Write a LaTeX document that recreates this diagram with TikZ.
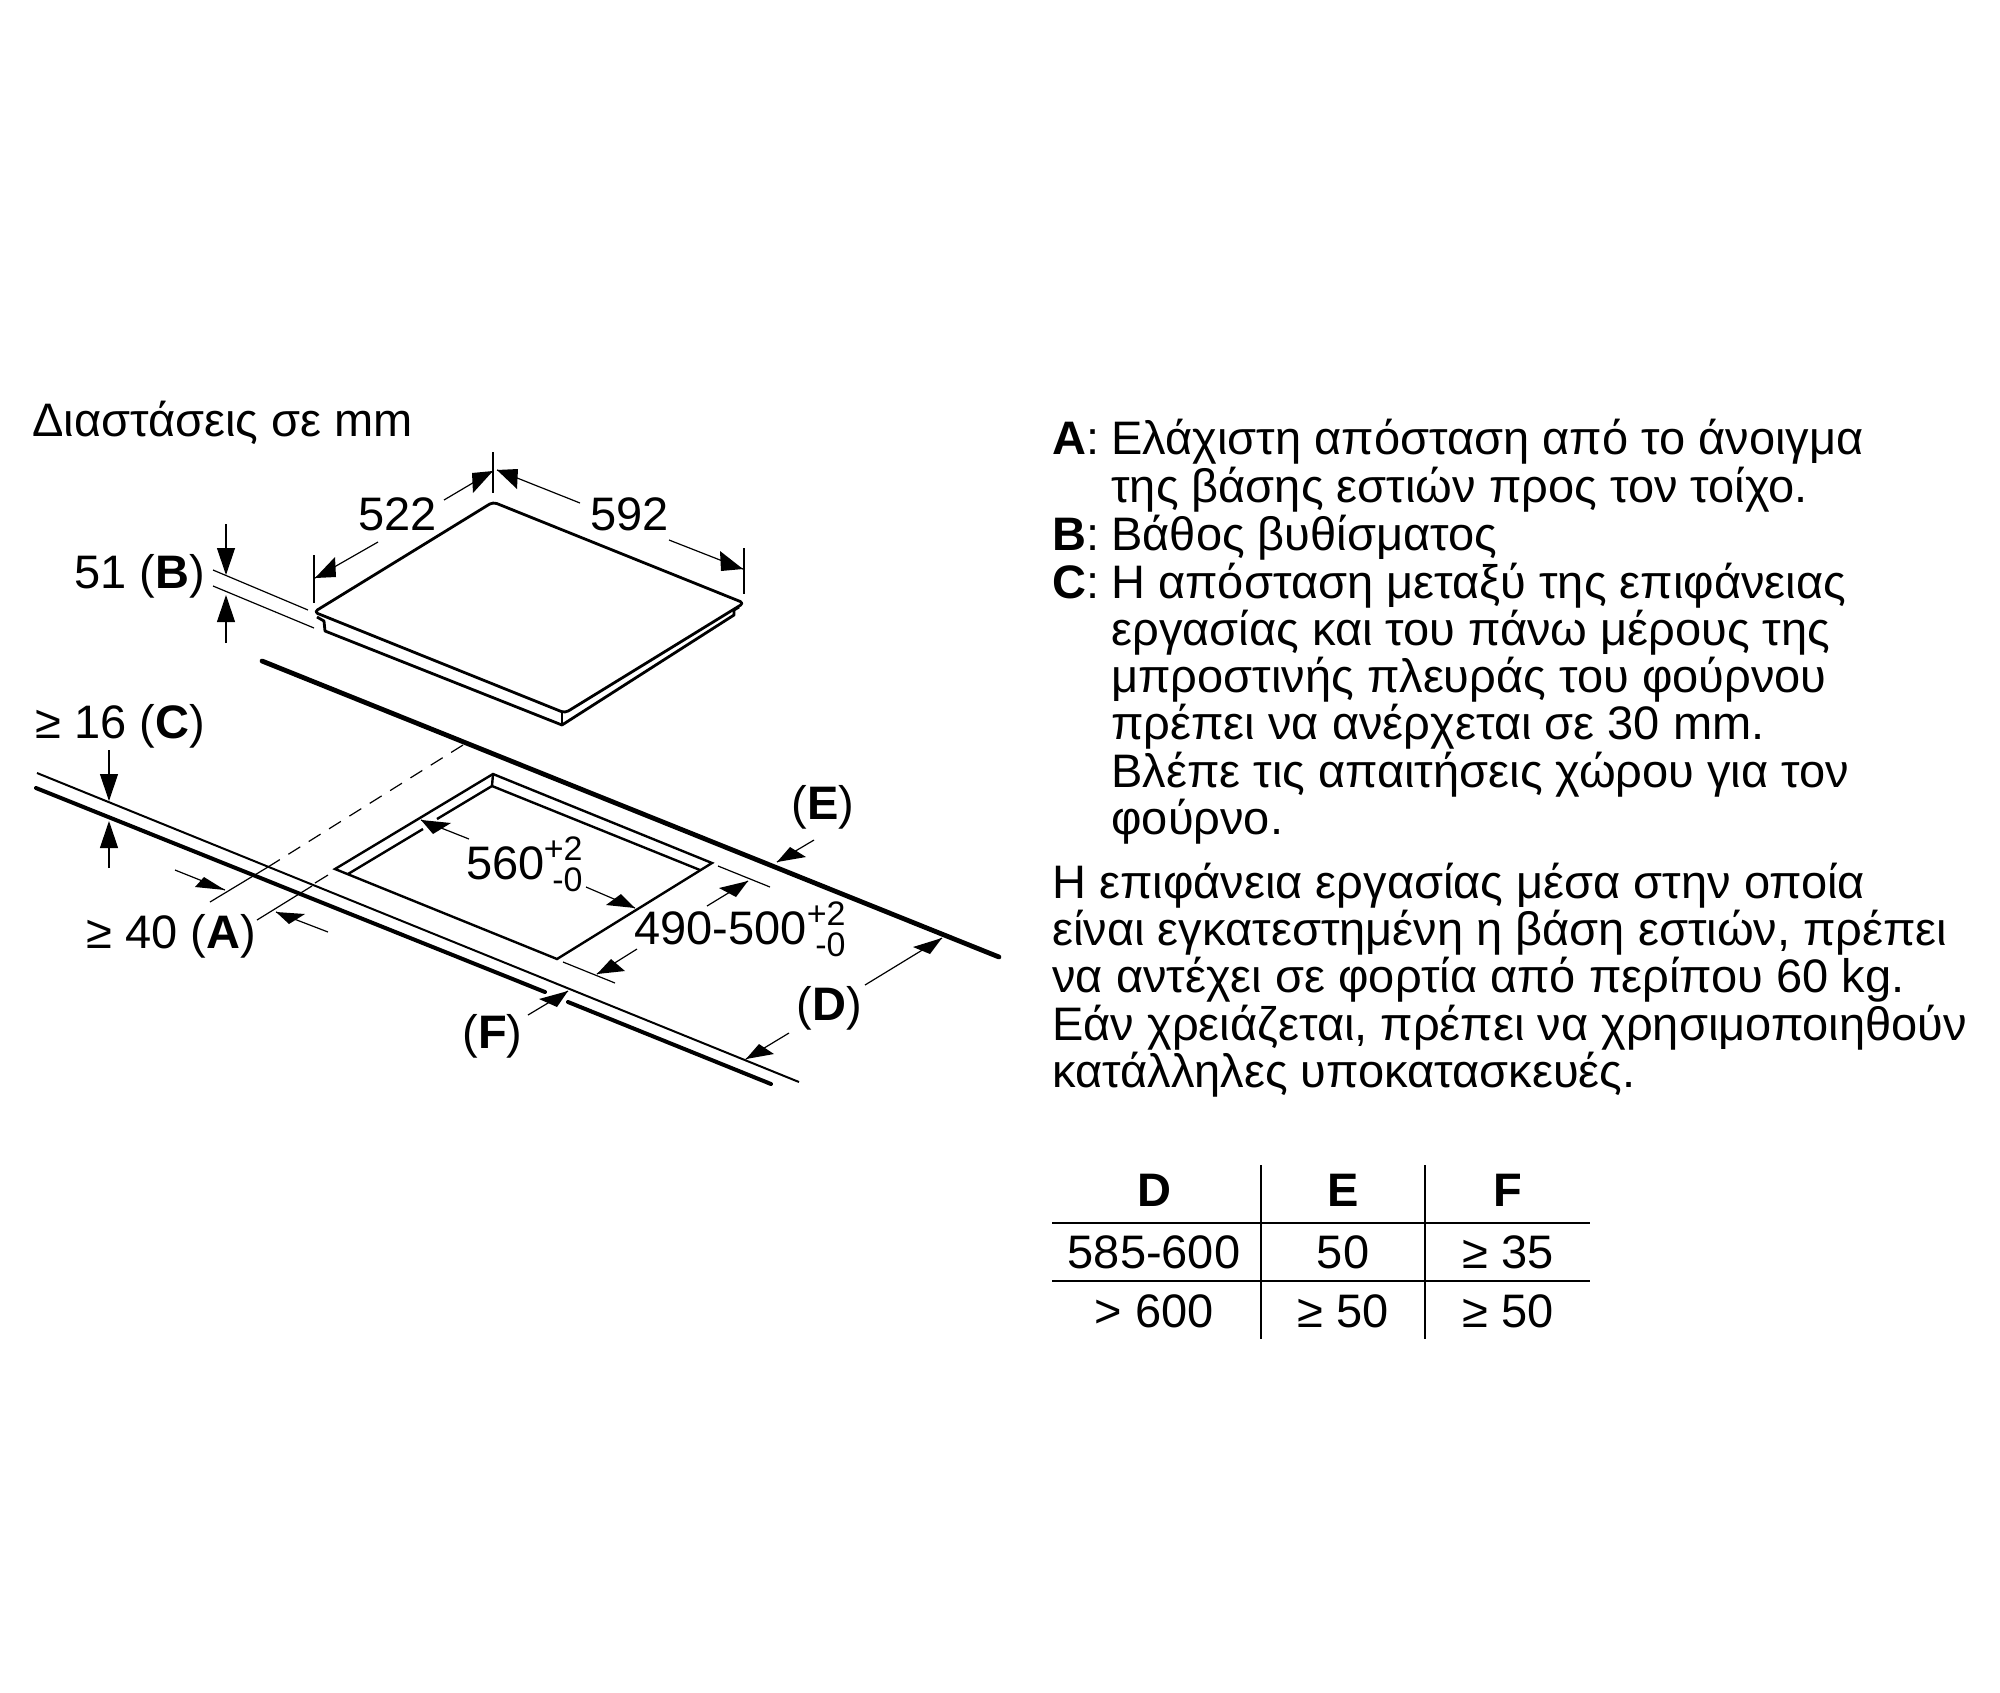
\documentclass[tikz,border=0pt]{standalone}
\usepackage{fontspec}
\setmainfont{Liberation Sans}
\usetikzlibrary{arrows.meta,positioning}

\tikzset{
    dimline/.style={black,line width=.6pt},
    dimarrow/.style={dimline,-{Triangle[length=13.5pt,width=9pt]}},
    hobline/.style={black,line width=1.4pt,line join=round},
    cutline/.style={black,line width=1.2pt,line join=miter},
    edgeline/.style={black,line width=2.4pt,line cap=round},
    label/.style={inner sep=0pt,anchor=base west,font=\fontsize{23.5}{24}\selectfont},
    tolerance/.style={inner sep=0pt,anchor=base east,font=\fontsize{17}{18}\selectfont},
    cell/.style={inner sep=0pt,anchor=base,font=\fontsize{23.5}{24}\selectfont},
}
% the heads on the slanted arrows are sheared with the drawing
\newcommand{\dimhead}[3]{\fill[black] #1 -- #2 -- #3 -- cycle;}

\begin{document}
\begin{tikzpicture}[yscale=-1,x=.5pt,y=.5pt]
    \useasboundingbox (0,0) rectangle (2000,1692);

    \node[label] (title) at (32,436) {Διαστάσεις σε mm};

    % hob
    \draw[hobline,rounded corners=2pt] (314,612) -- (493,502) -- (744,603) -- (565,713) -- cycle;
    \draw[hobline] (317,617) -- (324,621) -- (325,631) -- (562,725) -- (734,615) -- (734,610) -- (739,607);
    \draw[hobline,line width=1pt] (562,713) -- (562,725);

    % worktop
    \draw[edgeline] (262,661) -- (999,957);
    \draw[edgeline,line width=2pt] (36,788) -- (545,992);
    \draw[edgeline,line width=2pt] (568,1002) -- (771,1084);
    \draw[black,line width=1pt] (37,773) -- (799,1082);

    % cut-out
    \draw[cutline] (493,774) -- (712,863) -- (557,959) -- (335,869) -- cycle;
    \draw[cutline] (493,774) -- (492,786) -- (700,870);
    \draw[cutline] (492,786) -- (437,819);
    \draw[cutline] (423,829) -- (348,874);

    % distance to wall
    \draw[dimline,dash pattern=on 7pt off 5pt] (463,745) -- (268,867);
    \draw[dimline] (268,867) -- (210,902);
    \draw[dimline] (328,875) -- (315,883);
    \draw[dimline] (312,886) -- (257,920);

    % dimensions of the hob
    \draw[dimline] (493,452) -- (493,493);
    \draw[dimline] (314,555) -- (314,603);
    \draw[dimline] (744,548) -- (744,594);
    \draw[dimline] (444,500) -- (493,471);
    \dimhead{(493,471)}{(472,473)}{(473,493)}
    \draw[dimline] (378,542) -- (315,578);
    \dimhead{(315,578)}{(335,557)}{(336,577)}
    \draw[dimline] (580,503) -- (497,470);
    \dimhead{(497,470)}{(518,469)}{(517,489)}
    \draw[dimline] (669,540) -- (743,569);
    \dimhead{(743,569)}{(720,551)}{(721,571)}
    \node[label] (w522) at (358,530) {522};
    \node[label] (w592) at (590,530) {592};

    % B
    \draw[dimline] (213,570) -- (308,610);
    \draw[dimline] (213,586) -- (314,628);
    \draw[dimarrow] (226,524) -- (226,575);
    \draw[dimarrow] (226,643) -- (226,595);
    \node[label] (depth) at (74,588) {51 (\textbf{B})};

    % C
    \draw[dimarrow] (109,750) -- (109,801);
    \draw[dimarrow] (109,868) -- (109,821);
    \node[label] (gapC) at (35,738) {≥ 16 (\textbf{C})};

    % A
    \draw[dimline] (175,870) -- (225,890);
    \dimhead{(225,890)}{(204,877)}{(195,887)}
    \draw[dimline] (328,932) -- (276,912);
    \dimhead{(276,912)}{(305,914)}{(289,924)}
    \node[label] (gapA) at (86,948) {≥ 40 (\textbf{A})};

    % cut-out sizes
    \draw[dimline] (469,839) -- (421,820);
    \dimhead{(421,820)}{(451,823)}{(433,834)}
    \draw[dimline] (586,887) -- (635,908);
    \dimhead{(635,908)}{(621,894)}{(606,905)}
    \node[label] (w560) at (466,879) {560};
    \node[tolerance] (w560p) at (583,860) {+2};
    \node[tolerance] (w560m) at (583,891) {-0};

    \draw[dimline] (718,866) -- (770,887);
    \draw[dimline] (563,962) -- (615,983);
    \draw[dimline] (707,906) -- (748,881);
    \dimhead{(748,881)}{(719,888)}{(736,897)}
    \draw[dimline] (637,949) -- (597,974);
    \dimhead{(597,974)}{(611,959)}{(625,971)}
    \node[label] (w490) at (634,944) {490-500};
    \node[tolerance] (w490p) at (846,925) {+2};
    \node[tolerance] (w490m) at (846,956) {-0};

    % D E F
    \draw[dimline] (814,840) -- (777,862);
    \dimhead{(777,862)}{(790,847)}{(806,857)}
    \node[label] (labE) at (791,819) {(\textbf{E})};
    \draw[dimline] (865,985) -- (942,938);
    \dimhead{(942,938)}{(913,947)}{(930,954)}
    \draw[dimline] (789,1033) -- (746,1059);
    \dimhead{(746,1059)}{(759,1044)}{(774,1054)}
    \node[label] (labD) at (796,1020) {(\textbf{D})};
    \draw[dimline] (528,1015) -- (568,991);
    \dimhead{(568,991)}{(539,999)}{(557,1007)}
    \node[label] (labF) at (462,1048) {(\textbf{F})};

    % legend
    \node[label] (keyA) at (1052,454) {\textbf{A}:};
    \node[label] (txtA) at (1111,454) {Ελάχιστη απόσταση από το άνοιγμα};
    \node[label] (txtA2) at (1111,502) {της βάσης εστιών προς τον τοίχο.};
    \node[label] (keyB) at (1052,550) {\textbf{B}:};
    \node[label] (txtB) at (1111,550) {Βάθος βυθίσματος};
    \node[label] (keyC) at (1052,598) {\textbf{C}:};
    \node[label] (txtC) at (1111,598) {Η απόσταση μεταξύ της επιφάνειας};
    \node[label] (txtC2) at (1111,645) {εργασίας και του πάνω μέρους της};
    \node[label] (txtC3) at (1111,692) {μπροστινής πλευράς του φούρνου};
    \node[label] (txtC4) at (1111,739) {πρέπει να ανέρχεται σε 30 mm.};
    \node[label] (txtC5) at (1111,787) {Βλέπε τις απαιτήσεις χώρου για τον};
    \node[label] (txtC6) at (1111,834) {φούρνο.};

    \node[label] (load1) at (1052,898) {Η επιφάνεια εργασίας μέσα στην οποία};
    \node[label] (load2) at (1052,945) {είναι εγκατεστημένη η βάση εστιών, πρέπει};
    \node[label] (load3) at (1052,992) {να αντέχει σε φορτία από περίπου 60 kg.};
    \node[label] (load4) at (1052,1040) {Εάν χρειάζεται, πρέπει να χρησιμοποιηθούν};
    \node[label] (load5) at (1052,1087) {κατάλληλες υποκατασκευές.};

    % table
    \draw[black,line width=.9pt] (1261,1165) -- (1261,1339);
    \draw[black,line width=.9pt] (1425,1165) -- (1425,1339);
    \draw[black,line width=.9pt] (1052,1223) -- (1590,1223);
    \draw[black,line width=.9pt] (1052,1281) -- (1590,1281);
    \node[cell] (headD) at (1154,1206) {\textbf{D}};
    \node[cell] (headE) at (1343,1206) {\textbf{E}};
    \node[cell] (headF) at (1508,1206) {\textbf{F}};
    \node[cell] (d1) at (1154,1268) {585-600};
    \node[cell] (e1) at (1343,1268) {50};
    \node[cell] (f1) at (1508,1268) {≥ 35};
    \node[cell] (d2) at (1154,1327) {> 600};
    \node[cell] (e2) at (1343,1327) {≥ 50};
    \node[cell] (f2) at (1508,1327) {≥ 50};
\end{tikzpicture}
\end{document}
